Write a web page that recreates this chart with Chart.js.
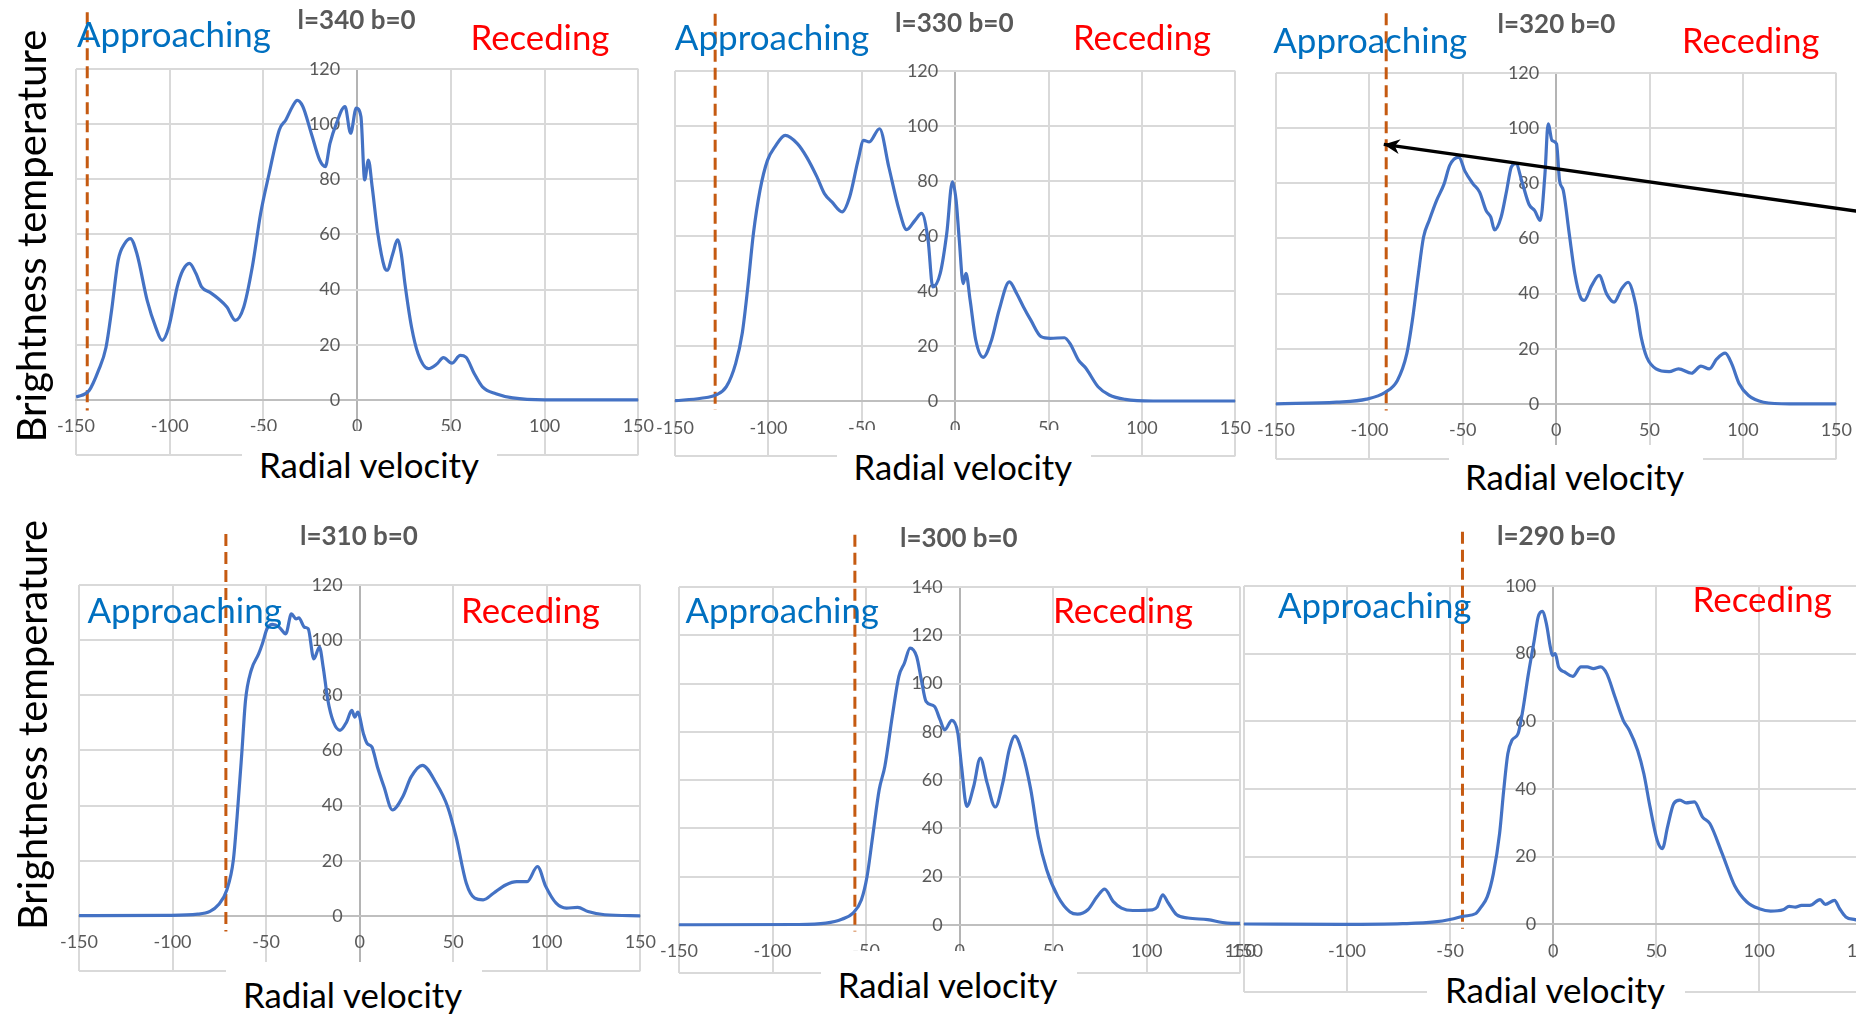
<!DOCTYPE html>
<html><head><meta charset="utf-8">
<script src="https://cdn.jsdelivr.net/npm/chart.js@4.4.1/dist/chart.umd.min.js"></script>
<style>
html,body{margin:0;padding:0;background:#fff;width:1856px;height:1016px;overflow:hidden;position:relative}
canvas{position:absolute}
.t{position:absolute;white-space:nowrap;line-height:normal;font-family:Lato,sans-serif;z-index:3}
.box{position:absolute;background:#fff;z-index:2}
</style></head><body>
<script>
// ---------- DATA (radial velocity, brightness temperature) ----------
const l340 = [[-150,1],[-143,3.4],[-138,10.7],[-134,19],[-131,32.5],[-127.5,50.7],[-124,56.7],[-121,58.5],[-117.5,53],[-112,36],[-107.5,26.4],[-104,21.6],[-100.5,26.4],[-96,41],[-93,47],[-89.5,49.5],[-86,45.8],[-83,41],[-78.5,39],[-74,36.7],[-69.5,33.7],[-65,28.8],[-60.5,33.7],[-56,48],[-51.5,67.6],[-47,82],[-41.5,98],[-38,101.6],[-34.5,106.4],[-32,108.6],[-29,106.4],[-24.5,96.7],[-20,87],[-17,84.6],[-14.5,93],[-11,100.4],[-6.5,106.4],[-3.5,96.7],[-0.5,105.8],[2,102.8],[4,79.8],[6,87],[8,77.3],[11,60.4],[14.5,48.2],[16,47],[19,53],[21.5,58],[23.5,53],[25.5,42],[29,26.4],[32.5,16.7],[38,11.3],[42.5,13],[46,15.3],[50.5,13.3],[55,16.1],[58,15.5],[62.5,9.5],[67,4.6],[74,2.2],[83,0.7],[100,0],[150,0]];
const l330 = [[-150,0.1],[-136,1],[-128,2.2],[-122.5,5.2],[-117.5,13.7],[-114,24.6],[-111,41.5],[-108,61],[-104.5,76.6],[-100.5,87.5],[-96.5,92.4],[-91,96.6],[-84.5,93.6],[-79.5,88.7],[-74,81.5],[-70,75.4],[-66,72.4],[-60.5,68.8],[-56.5,74.2],[-52,87.5],[-49,94.8],[-46,94.2],[-40.5,99],[-35.5,85],[-30,69.4],[-26,62.3],[-21.5,65.7],[-18,68.2],[-14.5,58.5],[-12,41.5],[-8,46.4],[-4.5,61],[-1.5,79.7],[0.5,73],[2.2,58.5],[4.3,42.7],[5.8,46.4],[8,36.7],[11,22.2],[15,15.9],[19.5,22.2],[23.5,33],[29,43.3],[33,39],[36.5,34.3],[40.5,29.4],[46,23.4],[51,22.8],[58.5,23],[61.5,20.9],[66,14.9],[70,11.9],[76.5,5.2],[82.5,2.2],[91,0.6],[106,0],[150,0]];
const l320 = [[-150,0],[-117.5,0.6],[-101.5,1.7],[-91.5,4.2],[-85,8.5],[-80,18.1],[-77,30.2],[-74,46],[-71,60.5],[-68,66.5],[-64,73.8],[-60,79.8],[-57,86.5],[-52,89.5],[-49,84.6],[-44.5,79.8],[-41,76.8],[-37.5,70.1],[-35,67.7],[-33,63.1],[-29.5,67.7],[-26.5,77.4],[-24,85.9],[-21.5,87.1],[-18.5,81],[-14.5,72.3],[-11.5,70.1],[-8.5,66.5],[-6,83.4],[-4.3,101.6],[-2.2,95.5],[0.2,94.3],[1.8,81],[3.8,77.4],[7,61.7],[10,47.2],[13,38.7],[15,37.5],[19,42.9],[23,46.6],[27,39.9],[31,36.9],[35,41.7],[38.5,44.1],[42.5,36.3],[45.5,24.2],[48.5,16.9],[53.5,12.7],[60.5,11.7],[65.5,12.7],[72.5,11.1],[77.5,13.7],[82,12.7],[86,16.3],[90.5,18.4],[94,14.5],[98,7.3],[103,3],[111,0.6],[125,0],[150,0]];
const l310 = [[-150,0.1],[-102.5,0.2],[-86.5,0.6],[-80,1.6],[-75.5,4],[-71,9.4],[-67.5,20.3],[-65.5,36],[-63,58.9],[-61,78.2],[-58,89],[-54,95],[-52,98.7],[-49.5,104.1],[-46.5,105.7],[-43,104.7],[-39.5,102.3],[-36.5,109.5],[-34,107.7],[-32.5,108.1],[-29.5,104.7],[-27.5,104.1],[-24.5,93.2],[-21.5,97.5],[-19.5,90.2],[-17,78.2],[-14,70.3],[-10.5,67.3],[-7,70.3],[-4.2,74.5],[-2.6,72.1],[-1,73.9],[2,66.1],[4,62.5],[6.5,61.3],[9.5,54],[13,46.8],[17.5,38.4],[23,43.2],[27.5,50.4],[33.5,54.6],[41,48],[47,39.6],[51.5,28.7],[57,11.8],[61.5,6.4],[66,5.8],[71.5,8.2],[78,11.2],[84,12.4],[89.5,12.4],[95,17.9],[99.5,10.6],[105,4.6],[110.5,2.8],[116.5,3.1],[122,1.6],[131,0.4],[150,0]];
const l300 = [[-150,0],[-86.5,0.1],[-71.5,0.7],[-63,2.3],[-57,4.8],[-52.5,10.4],[-49.5,20],[-46.5,36.6],[-43,56],[-40,65.6],[-36,86.4],[-32.5,103],[-29.5,108.5],[-26.5,114.7],[-23,111.2],[-20.5,101.6],[-18,92.6],[-13.5,90.5],[-10.5,85],[-8,80.8],[-4.2,84.7],[-1,79.5],[1,65.6],[3.8,49.1],[7.5,57.4],[11,69.1],[14.7,58.7],[19,48.8],[23,58.7],[26.5,72.6],[29.5,78.2],[33.5,71.2],[38,56],[42,36.6],[46.5,22.8],[52.5,11.7],[59,5.3],[63,4.4],[68.5,6.2],[73.5,11.7],[77.5,14.8],[82,9.7],[86.5,6.9],[92.5,5.9],[103,6.2],[105.5,7.3],[108.5,12.4],[111.5,9],[116,4.1],[122,2.8],[132.5,2.1],[143,0.7],[150,0.6]];
const l290 = [[-150,0.1],[-102.5,0],[-73,0.2],[-57.5,0.7],[-49.5,1.5],[-43.5,2.4],[-37.5,3.2],[-35,5.1],[-32,8.1],[-29,15],[-26,26.8],[-24,39.6],[-22,50.4],[-20,54.4],[-17,56.4],[-15,62.3],[-12,74.1],[-9.2,83.9],[-7.3,90.8],[-5.3,92.5],[-3.3,88.9],[-1.4,82],[-0.4,79.5],[1,80],[2.6,76.1],[5.5,74.6],[9.5,73.3],[13.5,76.1],[16.5,76.1],[19.5,75.6],[23,76.1],[26,74.1],[30,67.2],[34,60.3],[37,57.3],[41,51.4],[44,44.5],[47,34.7],[50.5,24.8],[53,22.4],[55.5,28.8],[58.5,35.7],[61.5,36.7],[64.5,35.9],[68.5,36.2],[72.5,31.7],[76,29.8],[82,20.9],[88,11.5],[94,6.6],[100,4.6],[105.5,3.9],[111.5,4.3],[114.5,5.3],[117.5,5.1],[120.5,5.6],[124.5,5.6],[129.5,7.3],[132,5.9],[136.5,7.1],[139,4.6],[142,2.2],[146.5,1.4],[150,1]];

const spectra = [l340, l330, l320, l310, l300, l290];
const panelTitles = ['l=340 b=0','l=330 b=0','l=320 b=0','l=310 b=0','l=300 b=0','l=290 b=0'];
const yMaxes = [120, 120, 120, 120, 140, 100];
const xTickValues = [-150, -100, -50, 0, 50, 100, 150];
// dashed marker (terminal velocity) per panel
const markerVel = [-144, -128.5, -91, -71.5, -56, -44];
const markerTop = [140.6, 140.8, 141.7, 138.5, 161.7, 116];
const markerBottom = [-3.9, -3.3, -2.4, -5.7, -2.8, -1.3];
// arrow in the l=320 panel (tail -> head)
const arrowVel = [185, -92.3];
const arrowTb = [67.6, 94.1];

// ---------- LAYOUT ----------
const areas = [ // plot area: left, top, right, bottom (page px)
  [76, 69, 640, 455],
  [675, 71, 1237, 456],
  [1276, 73, 1838, 459],
  [79, 585, 642, 971],
  [679, 587, 1242, 973],
  [1244, 586, 1864, 992]
];
const textLayout = [
  {app:[77,46.7,194], title:[297.6,29.3,118], rec:[470.5,50,139], rv:[259,478.3,221], box:[242,431,497,495]},
  {app:[674.8,50,194.5], title:[895,31.7,118.7], rec:[1073,50,138], rv:[853.5,480,219.5], box:[836.5,430,1090.8,495]},
  {app:[1273.3,53.3,194], title:[1497.5,33.3,118], rec:[1682,53.3,137.5], rv:[1465,490,220], box:[1449,445,1703,500]},
  {app:[87.5,623.3,194.5], title:[300,545,118], rec:[461,623.3,139], rv:[243,1008.3,220], box:[226,962,482,1016]},
  {app:[685.5,623.3,193.5], title:[900,546.7,117.6], rec:[1053,623.3,140], rv:[837.7,998.3,220.7], box:[821,951,1077,1016]},
  {app:[1278,618.3,193.5], title:[1497,545,118.5], rec:[1692.6,611.7,139.2], rv:[1445,1003.3,221], box:[1427,958,1684.5,1016]}
];
const yTitles = [[30, 236, 413], [31, 725, 410]];
const PAD = {left: 70, top: 80, right: 30, bottom: 30};
const Y_LABEL_GAP = 17; // px between y tick labels and the vertical axis

const arrowHeads = {
  id: 'arrowHeads',
  afterDatasetsDraw(chart) {
    const ctx = chart.ctx;
    chart.data.datasets.forEach((ds, i) => {
      if (!ds.arrowHead) return;
      const pts = chart.getDatasetMeta(i).data;
      const a = pts[pts.length - 2], b = pts[pts.length - 1];
      const ang = Math.atan2(b.y - a.y, b.x - a.x);
      const len = 16, half = 7.5;
      const c = Math.cos(ang), s = Math.sin(ang);
      ctx.save();
      ctx.fillStyle = ds.borderColor;
      ctx.beginPath();
      ctx.moveTo(b.x, b.y);
      ctx.lineTo(b.x - len * c + half * s, b.y - len * s - half * c);
      ctx.lineTo(b.x - len * 0.7 * c, b.y - len * 0.7 * s);
      ctx.lineTo(b.x - len * c - half * s, b.y - len * s + half * c);
      ctx.closePath();
      ctx.fill();
      ctx.restore();
    });
  }
};

const tickFont = {family: 'Lato', size: 18, weight: 400};
spectra.forEach((spec, i) => {
  const [L, T, R, B] = areas[i];
  const cv = document.createElement('canvas');
  cv.width = R - L + PAD.left + PAD.right;
  cv.height = B - T + PAD.top + PAD.bottom;
  cv.style.left = (L - PAD.left) + 'px';
  cv.style.top = (T - PAD.top) + 'px';
  cv.style.zIndex = 1;
  document.body.appendChild(cv);
  const yAxisAt = -Y_LABEL_GAP * 300 / (R - L); // value on x where y labels end
  const datasets = [
    {data: spec.map(([v, t]) => ({x: v, y: t})), borderColor: '#4472C4', borderWidth: 3.2,
     pointRadius: 0, cubicInterpolationMode: 'monotone', fill: false},
    {data: [{x: markerVel[i], y: markerTop[i]}, {x: markerVel[i], y: markerBottom[i]}],
     borderColor: '#C55A11', borderWidth: 3, borderDash: [12, 6], pointRadius: 0, clip: false}
  ];
  if (i === 2) {
    datasets.unshift({data: arrowVel.map((v, k) => ({x: v, y: arrowTb[k]})), borderColor: '#000000',
      borderWidth: 3.4, pointRadius: 0, clip: false, arrowHead: true, tension: 0});
  }
  new Chart(cv, {
    type: 'line',
    data: {datasets},
    options: {
      responsive: false, animation: false, events: [],
      layout: {padding: PAD},
      plugins: {legend: {display: false}, tooltip: {enabled: false}},
      scales: {
        x: {type: 'linear', min: -150, max: 150, position: {y: 0},
            afterBuildTicks: s => { s.ticks = xTickValues.map(v => ({value: v})); },
            ticks: {autoSkip: false, maxRotation: 0, padding: 16, color: '#595959', font: tickFont},
            grid: {color: c => (c.tick && c.tick.value === 0 ? '#b4b4b4' : '#d9d9d9'), lineWidth: 2, drawTicks: false},
            border: {color: '#bfbfbf', width: 2}},
        y: {type: 'linear', min: -20, max: yMaxes[i], position: {x: yAxisAt},
            ticks: {stepSize: 20, padding: 0, color: '#595959', font: tickFont,
                    callback: v => (v < 0 ? '' : v)},
            grid: {color: '#d9d9d9', lineWidth: 2, drawTicks: false},
            border: {display: false}}
      }
    },
    plugins: [arrowHeads]
  });
});

// ---------- TEXT ----------
const mctx = document.createElement('canvas').getContext('2d');
function fit(str, width, weight) {
  mctx.font = `${weight} 100px Lato`;
  const fs = 100 * width / mctx.measureText(str).width;
  mctx.font = `${weight} ${fs}px Lato`;
  return {fs, asc: mctx.measureText(str).fontBoundingBoxAscent};
}
function addText(str, [left, baseline, width], color, weight) {
  const {fs, asc} = fit(str, width, weight);
  const d = document.createElement('div');
  d.className = 't';
  d.textContent = str;
  d.style.left = left + 'px';
  d.style.top = (baseline - asc) + 'px';
  d.style.fontSize = fs + 'px';
  d.style.fontWeight = weight;
  d.style.color = color;
  document.body.appendChild(d);
}
textLayout.forEach((tl, i) => {
  const [bl, bt, br, bb] = tl.box;
  const bx = document.createElement('div');
  bx.className = 'box';
  bx.style.left = bl + 'px'; bx.style.top = bt + 'px';
  bx.style.width = (br - bl) + 'px'; bx.style.height = (bb - bt) + 'px';
  document.body.appendChild(bx);
  addText('Approaching', tl.app, '#0070C0', 400);
  addText(panelTitles[i], tl.title, '#595959', 700);
  addText('Receding', tl.rec, '#FF0000', 400);
  addText('Radial velocity', tl.rv, '#000000', 400);
});
yTitles.forEach(([cx, cy, len]) => {
  const {fs} = fit('Brightness temperature', len, 400);
  const d = document.createElement('div');
  d.className = 't';
  d.textContent = 'Brightness temperature';
  d.style.left = cx + 'px'; d.style.top = cy + 'px';
  d.style.fontSize = fs + 'px';
  d.style.color = '#000';
  d.style.transform = 'translate(-50%,-50%) rotate(-90deg)';
  document.body.appendChild(d);
});
</script>
</body></html>
